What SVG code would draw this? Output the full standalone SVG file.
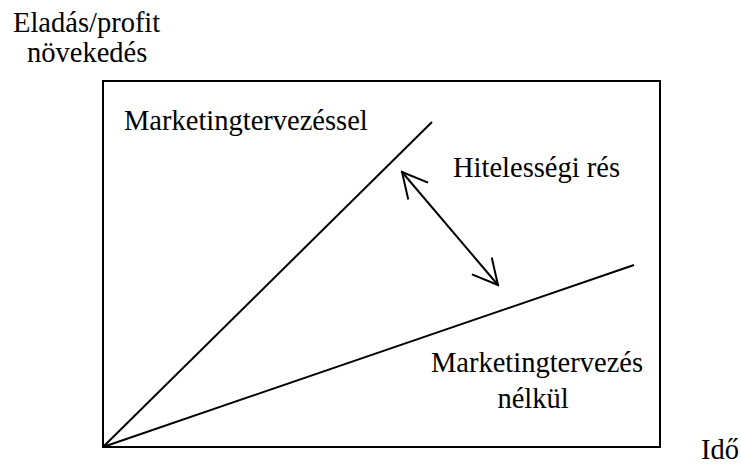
<svg xmlns="http://www.w3.org/2000/svg" width="741" height="466" viewBox="0 0 741 466">
<style>
text{font-family:"Liberation Serif","Times New Roman",serif;font-size:28.5px;fill:#000}
.ln{stroke:#000;stroke-width:2;fill:none}
</style>
<defs>
<marker id="ah" viewBox="0 0 30 30" refX="28" refY="15" markerWidth="30" markerHeight="30" markerUnits="userSpaceOnUse" orient="auto-start-reverse">
<path d="M3,2 L28,15 L3,28" fill="none" stroke="#000" stroke-width="2"/>
</marker>
</defs>
<rect width="741" height="466" fill="#fff"/>
<g id="frame"><rect x="103" y="81" width="557" height="366" class="ln"/></g>
<g id="connectors">
<line x1="103" y1="447" x2="432" y2="122" class="ln"/>
<line x1="103" y1="447" x2="634" y2="265" class="ln"/>
<line x1="402" y1="172" x2="498" y2="285" class="ln" marker-start="url(#ah)" marker-end="url(#ah)"/>
</g>
<g id="yaxis"><text x="13" y="32">Eladás/profit</text><text x="27" y="62">növekedés</text></g>
<g id="with"><text x="124" y="130">Marketingtervezéssel</text></g>
<g id="gap"><text x="453" y="177">Hitelességi rés</text></g>
<g id="without"><text x="537" y="372" text-anchor="middle">Marketingtervezés</text><text x="533" y="408" text-anchor="middle">nélkül</text></g>
<g id="xaxis"><text x="701" y="459">Idő</text></g>
</svg>
